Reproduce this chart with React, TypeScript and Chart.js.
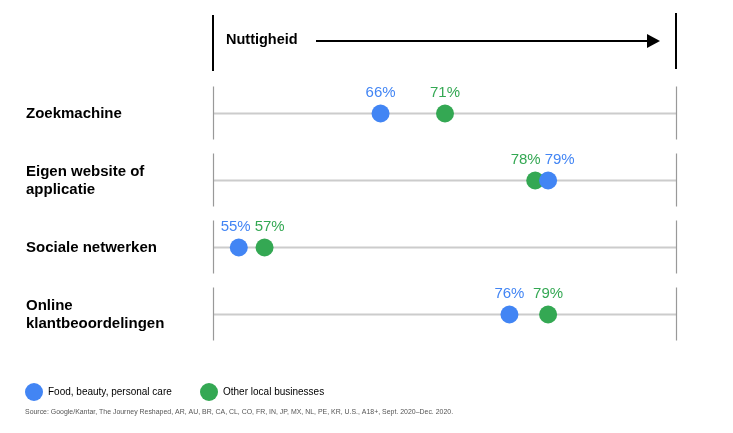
import React, { useEffect, useRef } from "react";
import { Chart, registerables } from "chart.js";

Chart.register(...registerables);

const categories = [
  "Zoekmachine",
  "Eigen website of\napplicatie",
  "Sociale netwerken",
  "Online\nklantbeoordelingen",
];
const seriesNames = ["Food, beauty, personal care", "Other local businesses"];
const foodValues = [66, 79, 55, 76];
const otherValues = [71, 78, 57, 79];
const seriesColors = ["#4285F4", "#34A853"];
const headerTitle = "Nuttigheid";
const sourceText =
  "Source: Google/Kantar, The Journey Reshaped, AR, AU, BR, CA, CL, CO, FR, IN, JP, MX, NL, PE, KR, U.S., A18+, Sept. 2020–Dec. 2020.";
const xMin = 53;
const xMax = 89;

const FONT = "'Liberation Sans', Arial, Helvetica, sans-serif";

const decorPlugin = {
  id: "decor",
  beforeDatasetsDraw(chart: any) {
    const { ctx, chartArea, scales } = chart;
    const y = scales.y;
    const { left, right } = chartArea;
    ctx.save();
    // header
    ctx.strokeStyle = "#000";
    ctx.lineWidth = 2;
    ctx.beginPath();
    ctx.moveTo(left, 15);
    ctx.lineTo(left, 71);
    ctx.moveTo(right - 1, 13);
    ctx.lineTo(right - 1, 69);
    ctx.stroke();
    ctx.font = `bold 14.5px ${FONT}`;
    ctx.fillStyle = "#000";
    ctx.textBaseline = "middle";
    ctx.textAlign = "left";
    ctx.fillText(headerTitle, left + 13, 40);
    ctx.beginPath();
    ctx.moveTo(left + 103, 41);
    ctx.lineTo(right - 30, 41);
    ctx.stroke();
    ctx.beginPath();
    ctx.moveTo(right - 30, 34);
    ctx.lineTo(right - 17, 41);
    ctx.lineTo(right - 30, 48);
    ctx.closePath();
    ctx.fill();

    // rows
    categories.forEach((cat, i) => {
      const cy = y.getPixelForValue(i);
      ctx.strokeStyle = "#cccccc";
      ctx.lineWidth = 2;
      ctx.beginPath();
      ctx.moveTo(left, cy);
      ctx.lineTo(right, cy);
      ctx.stroke();
      ctx.strokeStyle = "#999999";
      ctx.lineWidth = 1.2;
      ctx.beginPath();
      ctx.moveTo(left + 0.5, cy - 27);
      ctx.lineTo(left + 0.5, cy + 26);
      ctx.moveTo(right - 0.5, cy - 27);
      ctx.lineTo(right - 0.5, cy + 26);
      ctx.stroke();
      const lines = cat.split("\n");
      ctx.font = `bold 15px ${FONT}`;
      ctx.fillStyle = "#000";
      ctx.textAlign = "left";
      ctx.textBaseline = "middle";
      const lh = 18;
      const startY = cy - ((lines.length - 1) * lh) / 2;
      lines.forEach((ln, k) => ctx.fillText(ln, 26, startY + k * lh));
    });

    // legend
    ctx.font = `10px ${FONT}`;
    const legendX = [34, 209];
    chart.data.datasets.forEach((ds: any, i: number) => {
      ctx.fillStyle = ds.backgroundColor;
      ctx.beginPath();
      ctx.arc(legendX[i], 392, 9, 0, Math.PI * 2);
      ctx.fill();
      ctx.fillStyle = "#000";
      ctx.textAlign = "left";
      ctx.fillText(ds.label, legendX[i] + 14, 392);
    });
    ctx.font = `6.95px ${FONT}`;
    ctx.fillStyle = "#555";
    ctx.fillText(sourceText, 25, 412);
    ctx.restore();
  },
  afterDatasetsDraw(chart: any) {
    const { ctx } = chart;
    const m0 = chart.getDatasetMeta(0).data;
    const m1 = chart.getDatasetMeta(1).data;
    ctx.save();
    ctx.font = `15px ${FONT}`;
    ctx.textBaseline = "middle";
    categories.forEach((_, i) => {
      const pts = [
        { el: m0[i], v: chart.data.datasets[0].data[i].x, c: seriesColors[0] },
        { el: m1[i], v: chart.data.datasets[1].data[i].x, c: seriesColors[1] },
      ];
      const close = Math.abs(pts[0].el.x - pts[1].el.x) < 36;
      const sorted = [...pts].sort((a, b) => a.el.x - b.el.x);
      const mid = (sorted[0].el.x + sorted[1].el.x) / 2;
      sorted.forEach((p, k) => {
        ctx.fillStyle = p.c;
        const text = `${p.v}%`;
        const ty = p.el.y - 21;
        if (close) {
          ctx.textAlign = k === 0 ? "right" : "left";
          ctx.fillText(text, k === 0 ? mid - 1 : mid + 3, ty);
        } else {
          ctx.textAlign = "center";
          ctx.fillText(text, p.el.x, ty);
        }
      });
    });
    ctx.restore();
  },
};

export default function App() {
  const ref = useRef<HTMLCanvasElement | null>(null);
  useEffect(() => {
    document.body.style.margin = "0";
    if (!ref.current) return;
    const chart = new Chart(ref.current, {
      type: "scatter",
      data: {
        datasets: [
          {
            label: seriesNames[0],
            data: foodValues.map((v, i) => ({ x: v, y: i })),
            backgroundColor: seriesColors[0],
            borderWidth: 0,
            pointRadius: 9,
            pointHoverRadius: 9,
          },
          {
            label: seriesNames[1],
            data: otherValues.map((v, i) => ({ x: v, y: i })),
            backgroundColor: seriesColors[1],
            borderWidth: 0,
            pointRadius: 9,
            pointHoverRadius: 9,
          },
        ],
      },
      options: {
        animation: false,
        responsive: false,
        maintainAspectRatio: false,
        layout: { padding: { left: 213, right: 56, top: 80, bottom: 85 } },
        plugins: { legend: { display: false }, tooltip: { enabled: false } },
        scales: {
          x: { type: "linear", min: xMin, max: xMax, display: false },
          y: { type: "linear", min: -0.5, max: 3.5, reverse: true, display: false },
        },
      },
      plugins: [decorPlugin],
    });
    return () => chart.destroy();
  }, []);
  return (
    <div style={{ width: 733, height: 433, background: "#fff" }}>
      <canvas ref={ref} width={733} height={433} style={{ display: "block" }} />
    </div>
  );
}
